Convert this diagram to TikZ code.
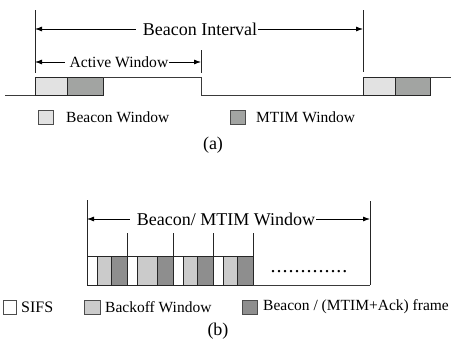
\documentclass[tikz,border=0pt]{standalone}
\usepackage{fontspec}
\setmainfont{Liberation Serif}
\usetikzlibrary{arrows.meta}
\definecolor{lineC}{HTML}{3A3A3A}
\definecolor{bwin}{HTML}{E2E2E2}
\definecolor{mwin}{HTML}{A2A4A2}
\definecolor{boff}{HTML}{CBCBCB}
\definecolor{frm}{HTML}{8E8E8E}
\newcommand\dotrowtext{\makebox[6pt]{.}\makebox[6pt]{.}\makebox[6pt]{.}\makebox[6pt]{.}\makebox[6pt]{.}\makebox[6pt]{.}\makebox[6pt]{.}\makebox[6pt]{.}\makebox[6pt]{.}\makebox[6pt]{.}\makebox[6pt]{.}\makebox[6pt]{.}\makebox[6pt]{.}}
\begin{document}
\begin{tikzpicture}[x=1pt,y=-1pt,
  ln/.style={draw=lineC,line width=0.9pt},
  mark line/.style={draw=black!85,line width=0.9pt},
  arr/.style={draw=black,line width=0.8pt,-{Latex[length=7pt,width=5pt]}},
  lbl/.style={inner sep=0pt,outer sep=0pt,font=\fontsize{#1}{#1}\selectfont},
  leg/.style={inner sep=0pt,anchor=west,font=\fontsize{15.5}{15.5}\selectfont},
  box/.style={draw=black!85,line width=0.9pt}
]
\useasboundingbox (0,0) rectangle (451,356);
\clip (0,0) rectangle (451,356);

% ---------------- panel (a) ----------------
\coordinate (aL) at (35,29);
\coordinate (aR) at (363,29);
\coordinate (awL) at (35,62);
\coordinate (awR) at (201,62);
\draw[mark line] (35,10) -- (35,73);
\draw[mark line] (363,10) -- (363,72);
\draw[mark line] (201,50) -- (201,73);
\node[lbl=18] (bi) at (200,29) {Beacon Interval};
\draw[arr] ([xshift=-7pt]bi.west) -- (aL);
\draw[arr] ([xshift=1pt]bi.east) -- (aR);
\node[lbl=15.6] (aw) at (119,62) {Active Window};
\draw[arr] ([xshift=-5pt]aw.west) -- (awL);
\draw[arr] ([xshift=1pt]aw.east) -- (awR);

% signal
\draw[ln] (5,95) -- (35,95);
\draw[box,fill=bwin] (35,77) rectangle (67,95);
\draw[box,fill=mwin] (67,77) rectangle (103,95);
\draw[ln] (103,77) -- (201,77) -- (201,95) -- (363,95);
\draw[box,fill=bwin] (363,77) rectangle (395,95);
\draw[box,fill=mwin] (395,77) rectangle (430,95);
\draw[ln] (430,77) -- (451,77);

% legend (a)
\draw[box,draw=black!70,fill=bwin] (38,110) rectangle (53,124);
\node[leg] (lbw) at (66,117) {Beacon Window};
\draw[box,draw=black!70,fill=mwin] (230,110) rectangle (245,124);
\node[leg] (lmw) at (256,117) {MTIM Window};
\node[lbl=18] (capa) at (213,145) {(a)};

% ---------------- panel (b) ----------------
\coordinate (bL) at (87,219);
\coordinate (bR) at (370,219);
\draw[mark line] (87,200) -- (87,285);
\draw[mark line] (370,201) -- (370,285);
\node[lbl=18] (bmw) at (226,219) {Beacon/ MTIM Window};
\draw[arr] ([xshift=-7pt]bmw.west) -- (bL);
\draw[arr] ([xshift=1pt]bmw.east) -- (bR);

\foreach \s/\b/\f/\e in {87/97/111/127, 127/137/157/173, 173/183/197/213, 213/223/237/253}{
  \draw[box,fill=white] (\s,256) rectangle (\b,285);
  \draw[box,fill=boff] (\b,256) rectangle (\f,285);
  \draw[box,fill=frm] (\f,256) rectangle (\e,285);
  \draw[mark line] (\e,233) -- (\e,256);
}
\draw[ln] (253,285) -- (370,285);
\node[inner sep=0pt,anchor=base,font=\fontsize{20}{20}\selectfont] (dots) at (309,272) {\dotrowtext};

% legend (b)
\draw[box,draw=black!70,fill=white] (3,300) rectangle (16,314);
\node[leg,font=\fontsize{16}{16}\selectfont] (lsifs) at (21,307) {SIFS};
\draw[box,draw=black!70,fill=boff] (84,300) rectangle (100,314);
\node[leg] (lbo) at (105,307) {Backoff Window};
\draw[box,draw=black!70,fill=frm] (242,300) rectangle (257,314);
\node[leg] (lfr) at (263,307) {Beacon / (MTIM+Ack) frame};
\node[lbl=18] (capb) at (218,331) {(b)};
\end{tikzpicture}
\end{document}
